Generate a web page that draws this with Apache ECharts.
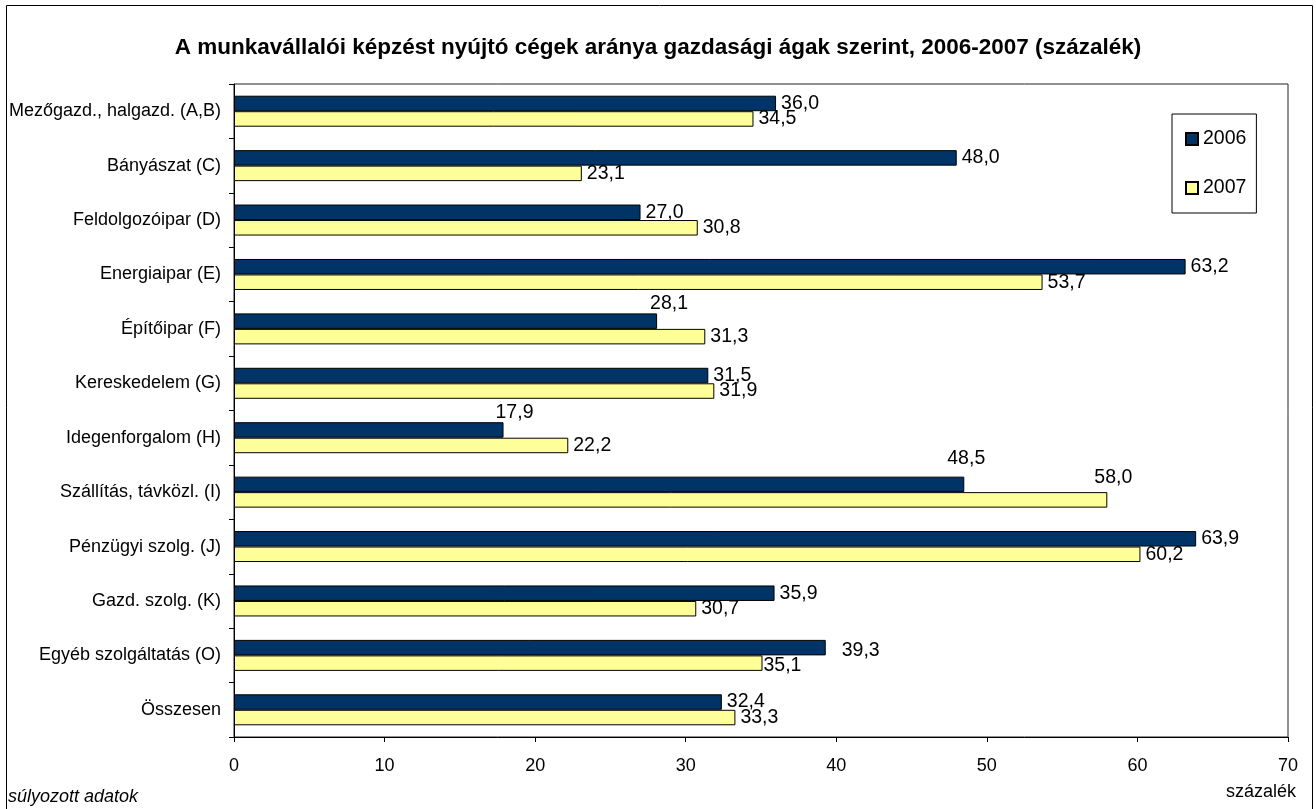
<!DOCTYPE html>
<html>
<head>
<meta charset="utf-8">
<script src="https://cdn.jsdelivr.net/npm/echarts@6/dist/echarts.min.js"></script>
<style>
html,body{margin:0;padding:0;background:#fff;}
#chart{width:1316px;height:809px;}
</style>
</head>
<body>
<div id="chart"></div>
<script>
const categories = [
  'Mezőgazd., halgazd. (A,B)',
  'Bányászat (C)',
  'Feldolgozóipar (D)',
  'Energiaipar (E)',
  'Építőipar (F)',
  'Kereskedelem (G)',
  'Idegenforgalom (H)',
  'Szállítás, távközl. (I)',
  'Pénzügyi szolg. (J)',
  'Gazd. szolg. (K)',
  'Egyéb szolgáltatás (O)',
  'Összesen'
];
const values2006 = [36.0, 48.0, 27.0, 63.2, 28.1, 31.5, 17.9, 48.5, 63.9, 35.9, 39.3, 32.4];
const values2007 = [34.5, 23.1, 30.8, 53.7, 31.3, 31.9, 22.2, 58.0, 60.2, 30.7, 35.1, 33.3];
const seriesNames = ['2006', '2007'];
const xTicks = [0, 10, 20, 30, 40, 50, 60, 70];

// label placement tweaks (styling, kept separate from data)
const labelOffsets2006 = {4: [-12, -18], 6: [-13, -17], 7: [-22, -26], 10: [11, 3]};
const labelOffsets2007 = {7: [-18, -22], 10: [-4, 2]};

const FONT = '"Liberation Sans", Arial, sans-serif';
const fmt = v => v.toFixed(1).replace('.', ',');

function build(vals, offsets) {
  return vals.map((v, i) => {
    const item = {value: v};
    if (offsets[i]) item.label = {offset: offsets[i]};
    return item;
  });
}

const chart = echarts.init(document.getElementById('chart'), null, {renderer: 'canvas'});
const labelCfg = {
  show: true, position: 'right', distance: 5,
  fontFamily: FONT, fontSize: 19.5, color: '#000',
  formatter: p => fmt(p.value)
};
chart.setOption({
  animation: false,
  backgroundColor: '#fff',
  title: {
    text: 'A munkavállalói képzést nyújtó cégek aránya gazdasági ágak szerint, 2006-2007 (százalék)',
    left: 'center', top: 31,
    textStyle: {fontFamily: FONT, fontSize: 22.5, fontWeight: 'bold', color: '#000'}
  },
  legend: {
    orient: 'vertical',
    left: 1172, top: 114,
    padding: [15, 10, 15, 13],
    itemGap: 29,
    itemWidth: 12, itemHeight: 12,
    borderColor: '#000', borderWidth: 1,
    icon: 'rect',
    textStyle: {fontFamily: FONT, fontSize: 19.5, color: '#000'},
    data: seriesNames
  },
  grid: {
    left: 234, right: 28, top: 84, bottom: 72,
    show: true, borderColor: '#222', borderWidth: 1, backgroundColor: 'transparent'
  },
  xAxis: {
    type: 'value', min: xTicks[0], max: xTicks[xTicks.length - 1], interval: 10,
    axisLine: {show: true, lineStyle: {color: '#000', width: 1}},
    axisTick: {show: true, length: 5, lineStyle: {color: '#000'}},
    splitLine: {show: false},
    axisLabel: {fontFamily: FONT, fontSize: 18, color: '#000', margin: 20}
  },
  yAxis: {
    type: 'category', inverse: true, data: categories,
    axisLine: {show: true, lineStyle: {color: '#000', width: 1}},
    axisTick: {show: true, length: 5, interval: 0, alignWithLabel: false, lineStyle: {color: '#000'}},
    axisLabel: {fontFamily: FONT, fontSize: 18, color: '#000', margin: 13, interval: 0}
  },
  series: [
    {
      name: seriesNames[0], type: 'bar', barWidth: 15.5, barGap: '0%',
      itemStyle: {color: '#003366', borderColor: '#000', borderWidth: 1},
      label: labelCfg,
      data: build(values2006, labelOffsets2006)
    },
    {
      name: seriesNames[1], type: 'bar', barWidth: 15.5, barGap: '0%',
      itemStyle: {color: '#FFFF99', borderColor: '#000', borderWidth: 1},
      label: labelCfg,
      data: build(values2007, labelOffsets2007)
    }
  ],
  graphic: [
    {type: 'rect', silent: true, z: 100,
     shape: {x: 6.5, y: 5.5, width: 1306, height: 820},
     style: {fill: 'none', stroke: '#000', lineWidth: 1}},
    {type: 'text', left: 8, top: 788,
     style: {text: 'súlyozott adatok', fontFamily: FONT, fontSize: 18, fontStyle: 'italic', fill: '#000'}},
    {type: 'text', right: 20, top: 783,
     style: {text: 'százalék', fontFamily: FONT, fontSize: 18, fill: '#000'}}
  ]
});
</script>
</body>
</html>
